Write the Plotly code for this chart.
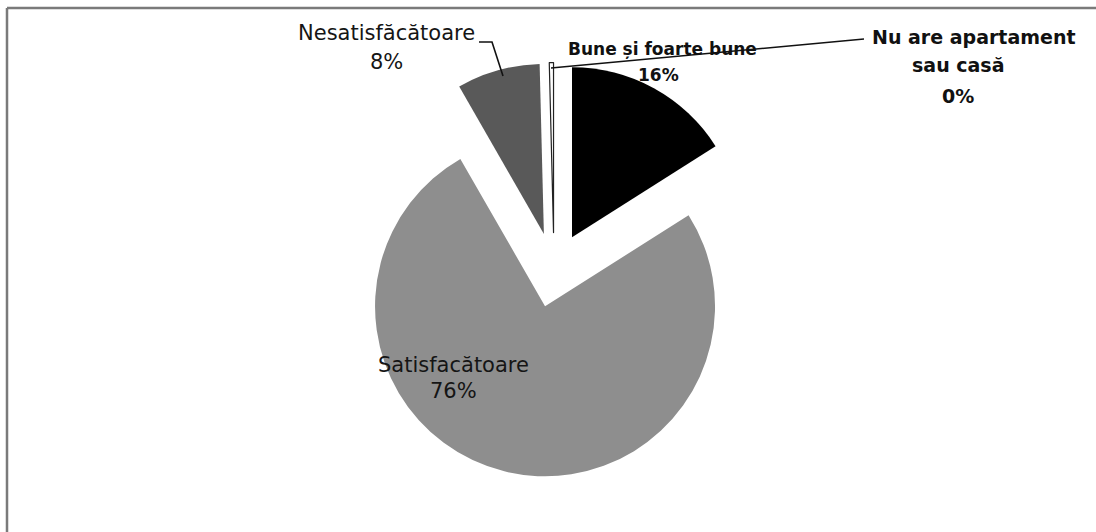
import plotly.graph_objects as go

# Housing conditions survey shares
categories = ["Bune și foarte bune", "Satisfacătoare", "Nesatisfăcătoare", "Nu are apartament sau casă"]
label_lines = [["Bune și foarte bune"], ["Satisfacătoare"], ["Nesatisfăcătoare"], ["Nu are apartament", "sau casă"]]
values = [16.0, 75.7, 7.9, 0.4]
slice_colors = ["#000000", "#8e8e8e", "#595959", "#ffffff"]

W, H = 1096, 532
total = sum(values)
shares = [round(v / total * 100) for v in values]


def px(x):
    return x / W


def py(y):
    return 1 - y / H


fig = go.Figure()
fig.add_trace(go.Pie(
    labels=categories,
    values=values,
    sort=False,
    direction="clockwise",
    rotation=0,
    pull=[0.22, 0.22, 0.22, 0.22],
    marker=dict(colors=slice_colors,
                line=dict(color=["#000000", "#8e8e8e", "#595959", "#222222"],
                          width=[0, 0, 0, 1.2])),
    textinfo="none",
    hoverinfo="label+percent",
    showlegend=False,
    domain=dict(x=[px(554 - 207.4), px(554 + 207.4)], y=[py(477.4), py(62.6)]),
))

# label placement: (x, y) centre of each text line in pixels, plus fonts
label_line_xy = [
    [(662, 49), (659, 75)],
    [(453, 365), (453, 391)],
    [(386, 33), (386, 62)],
    [(974, 37), (958, 65), (958, 96)],
]
regular = dict(family="DejaVu Sans, Arial", size=21, color="#151515")
bold = dict(family="DejaVu Sans, Arial", size=17, color="#111111", weight="bold")
bold_big = dict(family="DejaVu Sans, Arial", size=19, color="#111111", weight="bold")
label_fonts = [bold, regular, regular, bold_big]

annotations = []
for lines, share, xy, f in zip(label_lines, shares, label_line_xy, label_fonts):
    for text, (x, y) in zip(lines + [f"{share}%"], xy):
        annotations.append(dict(
            x=px(x), y=py(y), xref="paper", yref="paper",
            text=text, showarrow=False, font=f, align="center",
            xanchor="center", yanchor="middle",
        ))

shapes = [
    # leader line to the dark grey slice
    dict(type="path", xref="paper", yref="paper",
         path=f"M {px(479)},{py(42)} L {px(492)},{py(42)} L {px(503)},{py(76)}",
         line=dict(color="#111111", width=1.6)),
    # leader line to the thin slice
    dict(type="line", xref="paper", yref="paper",
         x0=px(864), y0=py(39), x1=px(551), y1=py(68),
         line=dict(color="#111111", width=1.6)),
    # chart frame (top and left edges)
    dict(type="line", xref="paper", yref="paper",
         x0=px(7), y0=py(8), x1=px(1096), y1=py(8),
         line=dict(color="#7a7a7a", width=2.5)),
    dict(type="line", xref="paper", yref="paper",
         x0=px(7), y0=py(8), x1=px(7), y1=py(532),
         line=dict(color="#7a7a7a", width=2.5)),
]

fig.update_layout(
    width=W, height=H,
    margin=dict(l=0, r=0, t=0, b=0),
    paper_bgcolor="#ffffff",
    plot_bgcolor="#ffffff",
    annotations=annotations,
    shapes=shapes,
)

fig.write_html("out.html")
